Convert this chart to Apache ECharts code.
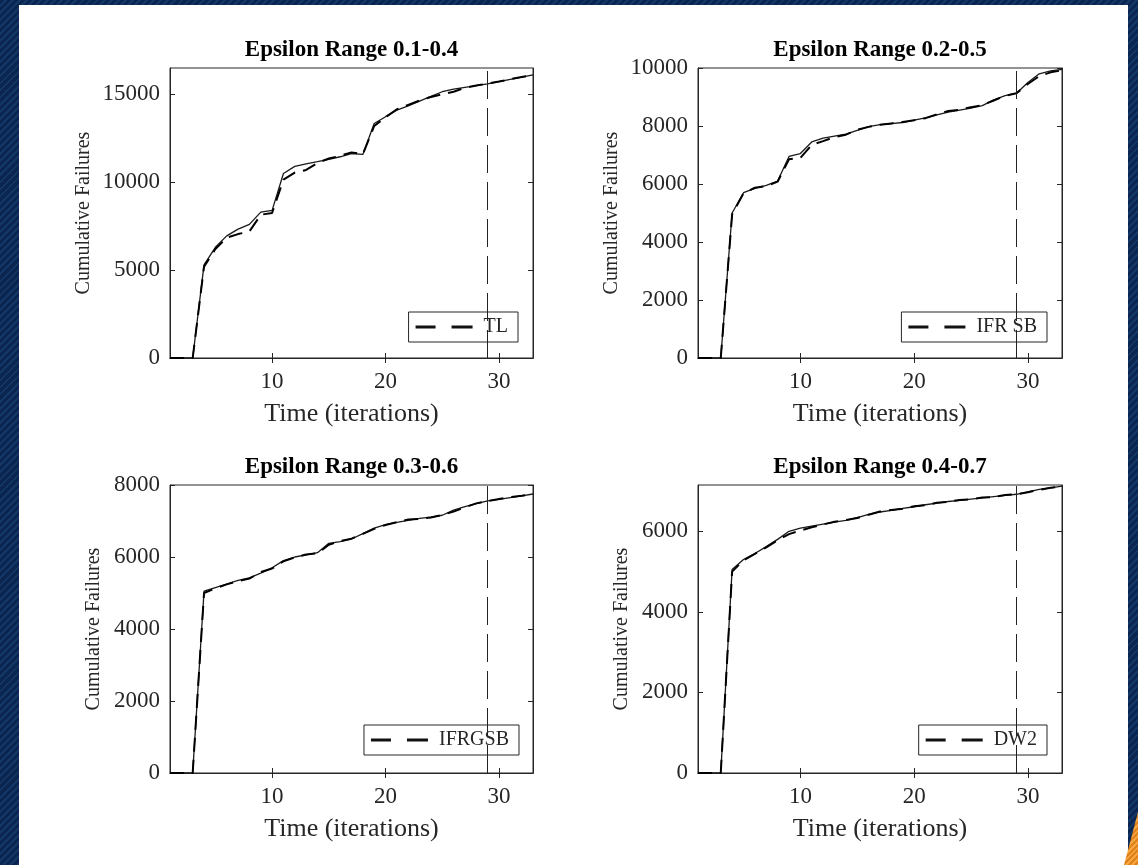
<!DOCTYPE html>
<html><head><meta charset="utf-8">
<script src="https://cdn.jsdelivr.net/npm/echarts@6/dist/echarts.min.js"></script>
<style>
html,body{margin:0;padding:0;width:1138px;height:865px;overflow:hidden;}
body{background:#0b2a58 repeating-linear-gradient(135deg,#0a2650 0px,#0a2650 3px,#133766 3px,#133766 5px);}
#panel{position:absolute;left:19px;top:5px;width:1109px;height:860px;background:#fff;}
#accent{position:absolute;left:1124px;top:812px;width:14px;height:53px;background:repeating-linear-gradient(135deg,#e0811a 0 2px,#f6a640 2px 4px);clip-path:polygon(100% 0,100% 100%,0 100%);}
#chart{position:absolute;left:0;top:0;width:1138px;height:865px;}
</style></head><body>
<div id="panel"></div><div id="accent"></div><div id="chart"></div>
<script>
// ---------- data ----------
const iterations = [1,2,3,4,5,6,7,8,9,10,11,12,13,14,15,16,17,18,19,20,21,22,23,24,25,26,27,28,29,30,31,32,33];
const titles = ['Epsilon Range 0.1-0.4','Epsilon Range 0.2-0.5','Epsilon Range 0.3-0.6','Epsilon Range 0.4-0.7'];
const modelNames = ['TL','IFR SB','IFRGSB','DW2'];
const xTicks = [10,20,30];
const yTicksA = [0,5000,10000,15000];
const yTicksB = [0,2000,4000,6000,8000,10000];
const yTicksC = [0,2000,4000,6000,8000];
const yTicksD = [0,2000,4000,6000];
const changePoint = 29;

const actualA = [0,0,0,5300,6300,6950,7330,7600,8300,8400,10500,10900,11050,11170,11300,11450,11630,11580,13340,13730,14100,14350,14620,14880,15150,15300,15400,15500,15600,15720,15850,15980,16110];
const modelA  = [0,0,0,5200,6200,6850,7050,7200,8150,8250,10150,10550,10700,11100,11350,11500,11700,11600,13200,13700,14150,14400,14650,14850,15000,15150,15380,15500,15620,15730,15860,15990,16110];

const actualB = [0,0,0,5000,5700,5850,5950,6100,6950,7050,7450,7580,7650,7720,7850,7980,8050,8080,8120,8200,8280,8380,8480,8550,8620,8700,8900,9050,9130,9500,9800,9900,9950];
const modelB  = [0,0,0,4950,5680,5870,5930,6080,6850,6900,7350,7480,7620,7700,7870,7970,8040,8090,8140,8200,8270,8400,8520,8560,8650,8720,8880,9040,9130,9450,9720,9850,9920];

const actualC = [0,0,0,5050,5150,5250,5350,5420,5550,5700,5900,6000,6060,6120,6380,6430,6500,6650,6800,6900,6960,7020,7070,7110,7160,7300,7400,7480,7560,7600,7650,7700,7750];
const modelC  = [0,0,0,5000,5130,5240,5330,5400,5580,5680,5880,5990,6070,6100,6340,6440,6510,6640,6780,6890,6970,7040,7060,7100,7170,7260,7380,7490,7550,7610,7660,7700,7750];

const actualD = [0,0,0,5050,5300,5450,5620,5800,6000,6080,6130,6180,6230,6270,6340,6420,6480,6520,6570,6610,6660,6700,6740,6770,6800,6830,6860,6890,6920,6980,7040,7080,7120];
const modelD  = [0,0,0,5000,5280,5440,5600,5780,5930,6020,6100,6170,6240,6280,6330,6410,6490,6530,6560,6620,6650,6710,6730,6780,6790,6840,6850,6900,6920,6970,7030,7080,7110];

// ---------- layout ----------
const F = '"Liberation Serif","Times New Roman",serif';
const TXT = '#262626';
const dashIcon = 'path://M0,0H20V3H0Z M36,0H57V3H36Z';
const panels = [
  {actual: actualA, fit: modelA, ymax: 16500, yticks: yTicksA, grid:{left:170, top:68, width:363, height:290}, legend:{right:620, top:312}, nameGap:76, titleTop:39},
  {actual: actualB, fit: modelB, ymax: 10000, yticks: yTicksB, grid:{left:698, top:68, width:364, height:290}, legend:{right:91, top:312}, nameGap:76, titleTop:39},
  {actual: actualC, fit: modelC, ymax: 8000,  yticks: yTicksC, grid:{left:170, top:485, width:363, height:288}, legend:{right:619, top:725}, nameGap:66, titleTop:456},
  {actual: actualD, fit: modelD, ymax: 7150,  yticks: yTicksD, grid:{left:698, top:485, width:364, height:288}, legend:{right:91, top:725}, nameGap:66, titleTop:456}
];

const grid = [], xAxis = [], yAxis = [], series = [], title = [], legend = [];
const plain = v => String(v);
panels.forEach((p, i) => {
  grid.push(Object.assign({show:true, borderColor:TXT, borderWidth:1, backgroundColor:'#fff'}, p.grid));
  const axLine = {show:true, lineStyle:{color:TXT, width:1}};
  xAxis.push({gridIndex:i, type:'value', min:1, max:33, position:'bottom',
    name:'Time (iterations)', nameLocation:'middle', nameGap:43,
    nameTextStyle:{fontFamily:F, fontSize:26, color:TXT},
    axisLine:axLine, axisTick:{show:true, inside:true, length:5, customValues:xTicks, lineStyle:{color:TXT}},
    axisLabel:{customValues:xTicks, formatter:plain, fontFamily:F, fontSize:23, color:TXT, margin:12},
    splitLine:{show:false}});
  xAxis.push({gridIndex:i, type:'value', min:1, max:33, position:'top',
    axisLine:axLine, axisTick:{show:true, inside:true, length:5, customValues:xTicks, lineStyle:{color:TXT}},
    axisLabel:{show:false, customValues:xTicks}, splitLine:{show:false}});
  yAxis.push({gridIndex:i, type:'value', min:0, max:p.ymax, position:'left',
    name:'Cumulative Failures', nameLocation:'middle', nameGap:p.nameGap,
    nameTextStyle:{fontFamily:F, fontSize:20, color:TXT},
    axisLine:axLine, axisTick:{show:true, inside:true, length:5, customValues:p.yticks, lineStyle:{color:TXT}},
    axisLabel:{customValues:p.yticks, formatter:plain, fontFamily:F, fontSize:23, color:TXT, margin:10},
    splitLine:{show:false}});
  yAxis.push({gridIndex:i, type:'value', min:0, max:p.ymax, position:'right',
    axisLine:axLine, axisTick:{show:true, inside:true, length:5, customValues:p.yticks, lineStyle:{color:TXT}},
    axisLabel:{show:false, customValues:p.yticks}, splitLine:{show:false}});

  const cx = p.grid.left + p.grid.width / 2;
  title.push({text:titles[i], left:cx, top:p.titleTop, textAlign:'center', padding:0,
    textStyle:{fontFamily:F, fontWeight:'bold', fontSize:23, color:'#000'}});

  series.push({name:'Actual ' + modelNames[i], type:'line', xAxisIndex:2*i, yAxisIndex:2*i,
    data: iterations.map((x, k) => [x, p.actual[k]]), symbol:'none', silent:true,
    lineStyle:{color:'#1a1a1a', width:1.3}, z:3,
    markLine:{silent:true, symbol:['none','none'], label:{show:false},
      lineStyle:{color:'#222', width:1, type:[28,9]}, data:[{xAxis:changePoint}]}});
  series.push({name:modelNames[i], type:'line', xAxisIndex:2*i, yAxisIndex:2*i,
    data: iterations.map((x, k) => [x, p.fit[k]]), symbol:'none', silent:true,
    itemStyle:{color:'#000'}, lineStyle:{color:'#000', width:2, type:[14,8]}, z:4});

  legend.push(Object.assign({data:[{name:modelNames[i], icon:dashIcon}], selectedMode:false, orient:'horizontal',
    borderColor:TXT, borderWidth:1, backgroundColor:'#fff', padding:[5,10,5,7],
    itemWidth:57, itemHeight:3, itemGap:5,
    itemStyle:{color:'#111'},
    textStyle:{fontFamily:F, fontSize:20, color:TXT, padding:[0,0,0,6]}}, p.legend));
});

const chart = echarts.init(document.getElementById('chart'), null, {renderer:'canvas'});
chart.setOption({animation:false, backgroundColor:'transparent', title, grid, xAxis, yAxis, series, legend});
</script>
</body></html>
